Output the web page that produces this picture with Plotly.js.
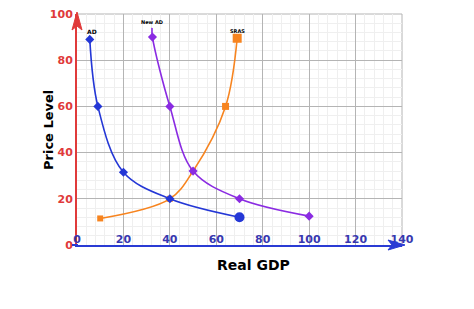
<!DOCTYPE html>
<html>
<head>
<meta charset="utf-8">
<script src="https://cdn.plot.ly/plotly-3.0.1.min.js"></script>
<style>html,body{margin:0;padding:0;background:#fff;}#chart{width:474px;height:309px;}</style>
</head>
<body>
<div id="chart"></div>
<script>
// Data
const adX = [5.5, 9, 20, 40, 70];
const adY = [89, 60, 31.5, 20, 12];
const newAdX = [32.3, 32.5, 40, 50, 70, 100];
const newAdY = [94, 90, 60, 32, 20, 12.5];
const srasX = [10, 40, 50, 64, 69];
const srasY = [11.5, 20, 32, 60, 89.5];
const curveNames = ['AD', 'New AD', 'SRAS'];
const xTitle = 'Real GDP';
const yTitle = 'Price Level';

const FONT = 'DejaVu Sans, sans-serif';
const W = 474, H = 309, ML = 77, MR = 72, MT = 14, MB = 64;
const PW = W - ML - MR, PH = H - MT - MB;
// pixel -> paper helpers (for decorations only)
const px = v => (v - ML) / PW;
const py = v => (H - MB - v) / PH;
const path = pts => 'M' + pts.map(p => px(p[0]) + ',' + py(p[1])).join(' L') + ' Z';

const traces = [
  {
    x: srasX, y: srasY, name: curveNames[2], mode: 'lines+markers',
    line: {shape: 'spline', smoothing: 1, color: '#f7841f', width: 1.6},
    marker: {symbol: 'square', color: '#f7841f', opacity: 1, line: {width: 0}, size: [6, 6, 6, 7, 9]}
  },
  {
    x: adX, y: adY, name: curveNames[0], mode: 'lines+markers',
    line: {shape: 'spline', smoothing: 1, color: '#2437d6', width: 1.6},
    marker: {symbol: ['diamond', 'diamond', 'diamond', 'diamond', 'circle'], color: '#2437d6', opacity: 1, line: {width: 0}, size: [7, 7, 7, 7, 10]}
  },
  {
    x: newAdX, y: newAdY, name: curveNames[1], mode: 'lines+markers',
    line: {shape: 'spline', smoothing: 1, color: '#8a2be2', width: 1.6},
    marker: {symbol: 'diamond', color: '#8a2be2', opacity: 1, line: {width: 0}, size: [0, 7, 7, 7, 7, 7]}
  }
];

const layout = {
  width: W, height: H,
  margin: {l: ML, r: MR, t: MT, b: MB},
  paper_bgcolor: '#ffffff', plot_bgcolor: '#ffffff',
  showlegend: false,
  font: {family: FONT},
  xaxis: {
    range: [0, 140], tick0: 0, dtick: 20, fixedrange: true,
    showgrid: true, gridcolor: '#b4b4b4', gridwidth: 1,
    minor: {dtick: 4, showgrid: true, gridcolor: '#efefef', gridwidth: 1},
    zeroline: false, showline: true, linecolor: '#2a3bd4', linewidth: 2, ticks: '',
    ticklabelstandoff: -17,
    tickfont: {family: FONT, size: 11, color: '#3838b0', weight: 'bold'}
  },
  yaxis: {
    range: [0, 100], tick0: 0, dtick: 20, fixedrange: true,
    showgrid: true, gridcolor: '#b4b4b4', gridwidth: 1,
    minor: {dtick: 4, showgrid: true, gridcolor: '#efefef', gridwidth: 1},
    zeroline: false, showline: true, linecolor: '#e03a3a', linewidth: 2, ticks: '',
    tickfont: {family: FONT, size: 11, color: '#e03a3a', weight: 'bold'}
  },
  shapes: [
    // plot border (top and right)
    {type: 'line', xref: 'paper', yref: 'paper', x0: 0, x1: 1, y0: 1, y1: 1, line: {color: '#b4b4b4', width: 1}, layer: 'below'},
    {type: 'line', xref: 'paper', yref: 'paper', x0: 1, x1: 1, y0: 0, y1: 1, line: {color: '#b4b4b4', width: 1}, layer: 'below'},
    // x axis line extension on the left
    {type: 'line', xref: 'paper', yref: 'paper', x0: px(72), x1: px(78), y0: 0, y1: 0, line: {color: '#2a3bd4', width: 2}},
    // arrowheads
    {type: 'path', xref: 'paper', yref: 'paper', path: path([[77, 12], [82, 30], [77, 26], [72, 30]]),
     fillcolor: '#e03a3a', line: {color: '#e03a3a', width: 1}},
    {type: 'path', xref: 'paper', yref: 'paper', path: path([[405, 245], [388, 250], [392, 245], [388, 240]]),
     fillcolor: '#2a3bd4', line: {color: '#2a3bd4', width: 1}}
  ],
  annotations: [
    {x: px(253), y: py(265), xref: 'paper', yref: 'paper', xanchor: 'center', yanchor: 'middle',
     text: xTitle, showarrow: false, font: {family: FONT, size: 14, color: '#000', weight: 'bold'}},
    {x: px(48), y: py(130), xref: 'paper', yref: 'paper', xanchor: 'center', yanchor: 'middle', textangle: -90,
     text: yTitle, showarrow: false, font: {family: FONT, size: 13, color: '#000', weight: 'bold'}},
    {x: adX[0], y: 92.5, xref: 'x', yref: 'y', xshift: 2, text: curveNames[0], showarrow: false,
     font: {family: FONT, size: 6, color: '#000', weight: 'bold'}},
    {x: newAdX[1], y: 96.5, xref: 'x', yref: 'y', text: curveNames[1], showarrow: false,
     font: {family: FONT, size: 5, color: '#000', weight: 'bold'}},
    {x: srasX[4], y: 92.5, xref: 'x', yref: 'y', text: curveNames[2], showarrow: false,
     font: {family: FONT, size: 5, color: '#000', weight: 'bold'}}
  ]
};

Plotly.newPlot('chart', traces, layout, {displayModeBar: false, staticPlot: true});
</script>
</body>
</html>
